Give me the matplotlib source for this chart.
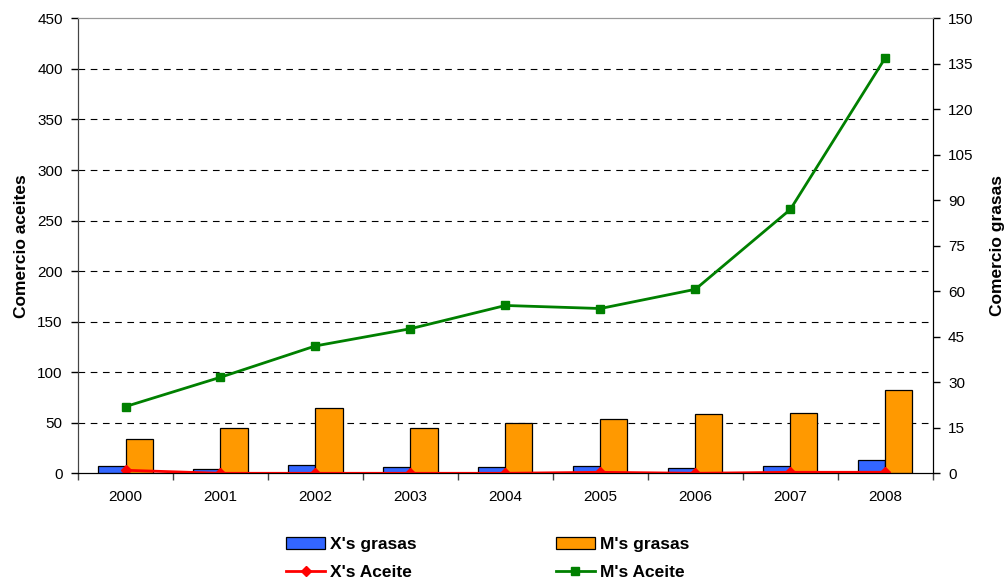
import matplotlib.pyplot as plt
import numpy as np

plt.rcParams['font.family'] = ['Liberation Sans', 'DejaVu Sans']

years = ['2000', '2001', '2002', '2003', '2004', '2005', '2006', '2007', '2008']

# grasas (right axis, bars)
x_grasas = [2.3, 1.4, 2.8, 2.0, 2.0, 2.3, 1.8, 2.3, 4.3]
m_grasas = [11.3, 15.1, 21.4, 15.1, 16.7, 18.0, 19.6, 19.9, 27.5]

# aceites (left axis, lines)
x_aceite = [3, 0, 0, 0, 0, 1, 0, 1, 1]
m_aceite = [66, 95, 126, 143, 166, 163, 182, 261, 411]

fig = plt.figure(figsize=(10.08, 5.87), dpi=100)
ax = fig.add_axes([0.0774, 0.1937, 0.848, 0.775])
ax2 = ax.twinx()

x = np.arange(len(years))
w = 0.285

# bars live on the lower axes so the lines sit on top of them
b1 = ax.bar(x - w / 2, x_grasas, w, color='#3366FF', edgecolor='black', linewidth=0.9,
            label="X's grasas", zorder=3)
b2 = ax.bar(x + w / 2, m_grasas, w, color='#FF9900', edgecolor='black', linewidth=0.9,
            label="M's grasas", zorder=3)

l1, = ax2.plot(x, x_aceite, color='#FF0000', lw=2, marker='D', ms=5, label="X's Aceite")
l2, = ax2.plot(x, m_aceite, color='#008000', lw=2, marker='s', ms=6, label="M's Aceite")

ax.set_xlim(-0.5, len(years) - 0.5)
ax.set_ylim(0, 150)
ax2.set_ylim(0, 450)

# right axis: grasas
ax.yaxis.tick_right()
ax.yaxis.set_label_position('right')
ax.set_yticks(np.arange(0, 151, 15))
ax.set_ylabel('Comercio grasas', fontsize=12.5, fontweight='bold', labelpad=12)

# left axis: aceites
ax2.yaxis.tick_left()
ax2.yaxis.set_label_position('left')
ax2.set_yticks(np.arange(0, 451, 50))
ax2.set_ylabel('Comercio aceites', fontsize=12.5, fontweight='bold', labelpad=6)

# gridlines at the left-axis ticks, drawn on the bar axes so bars cover them
grid_vals = np.arange(50, 450, 50) * 150 / 450
for g in grid_vals:
    ax.axhline(g, color='black', lw=0.8, ls=(0, (6, 5)), zorder=1)

ax.set_xticks(x)
ax.set_xticklabels(years)
ax.set_xticks(np.arange(-0.5, len(years)), minor=True)
ax.tick_params(axis='x', which='major', length=0, pad=12, labelsize=11)
ax.tick_params(axis='x', which='minor', length=5, width=1, color='#444444')
ax.tick_params(axis='y', length=5, width=1, labelsize=11, pad=6)
ax2.tick_params(axis='y', length=5, width=1, labelsize=11, pad=6)

for a in (ax, ax2):
    a.spines['top'].set_color('#999999')
    a.spines['left'].set_color('#444444')
    a.spines['right'].set_color('black')
    a.spines['bottom'].set_color('black')

fig.legend([b1, l1, b2, l2], ["X's grasas", "X's Aceite", "M's grasas", "M's Aceite"],
           loc='center', bbox_to_anchor=(0.484, 0.048), ncol=2, frameon=False,
           prop={'weight': 'bold', 'size': 12.5}, handlelength=2.25, handletextpad=0.3,
           columnspacing=8, labelspacing=0.75)

fig.savefig('out.png', dpi=100)
